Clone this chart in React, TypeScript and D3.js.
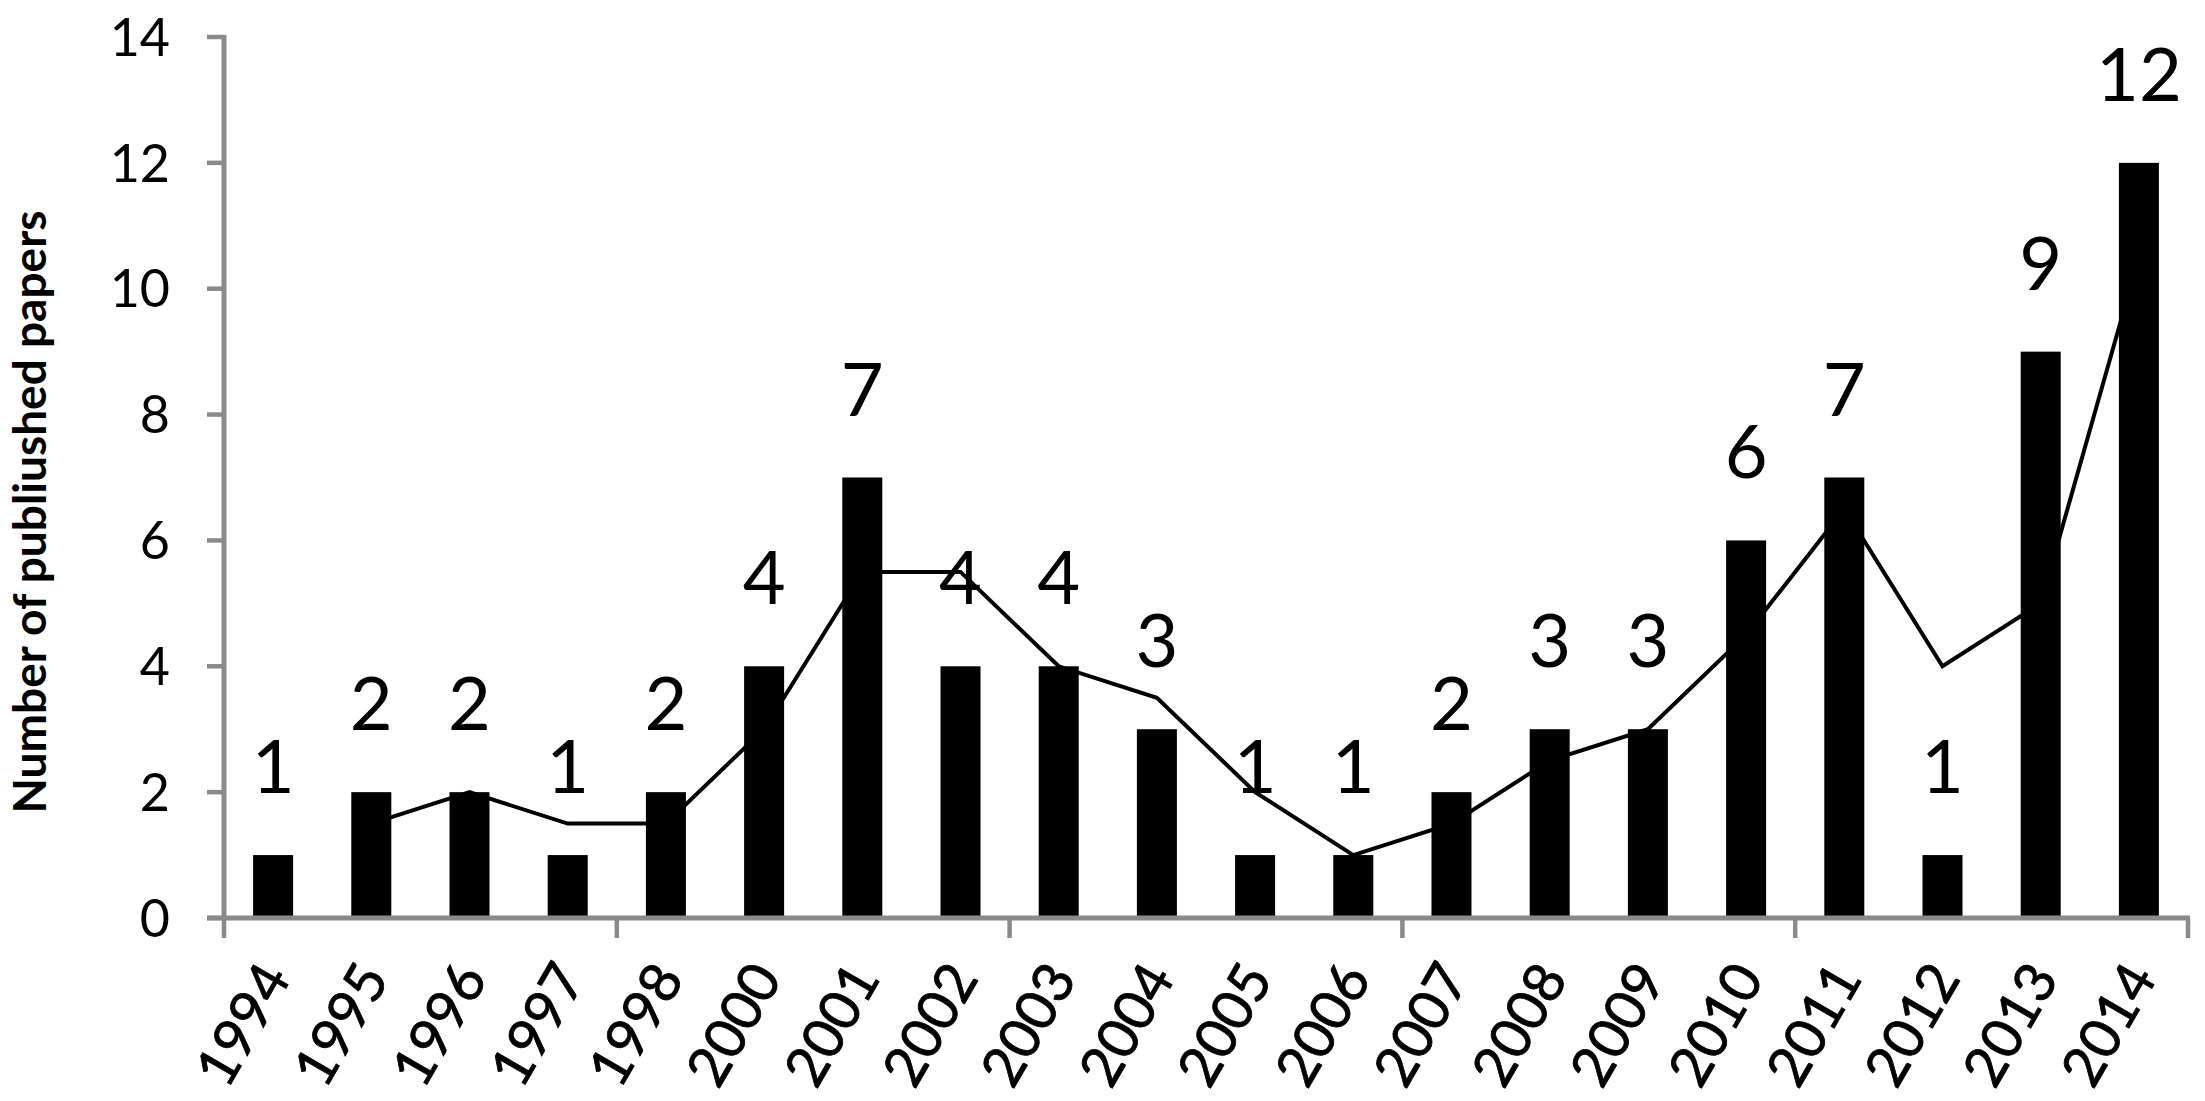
import React from "react";
import * as d3 from "d3";

const years = ["1994","1995","1996","1997","1998","2000","2001","2002","2003","2004","2005","2006","2007","2008","2009","2010","2011","2012","2013","2014"];
const papers = [1,2,2,1,2,4,7,4,4,3,1,1,2,3,3,6,7,1,9,12];
// two-period moving average trend line (starts at second category)
const trend: (number | null)[] = [null,1.5,2,1.5,1.5,3,5.5,5.5,4,3.5,2,1,1.5,2.5,3,4.5,6.5,4,5,10.5];
const yTicks = [0,2,4,6,8,10,12,14];
const yTitle = "Number of publiushed papers";

const W = 2205, H = 1101;
const left = 224, right = 2188, top = 37, bottom = 918;
const FONT = "Lato, 'Open Sans', sans-serif";
const AXIS = "#8a8a8a";

export default function App() {
  const x = d3.scaleBand<string>().domain(years).range([left, right]).paddingInner(0).paddingOuter(0);
  const y = d3.scaleLinear().domain([0, 14]).range([bottom, top]);
  const bw = 40;
  const cx = (d: string) => (x(d) as number) + x.bandwidth() / 2;
  const line = d3.line<[string, number | null]>()
    .defined(d => d[1] !== null)
    .x(d => cx(d[0]))
    .y(d => y(d[1] as number));
  const linePts: [string, number | null][] = years.map((yr, i) => [yr, trend[i]]);
  const majorTicks = d3.range(0, years.length + 1, 4).map(i => left + i * x.bandwidth());

  return (
    <svg width={W} height={H} style={{ position: "absolute", left: 0, top: 0, background: "#fff" }}>
      {/* bars */}
      {years.map((yr, i) => (
        <rect key={yr} x={cx(yr) - bw / 2} y={y(papers[i])} width={bw} height={bottom - y(papers[i])} fill="#000" />
      ))}
      {/* trend line */}
      <path d={line(linePts) || ""} fill="none" stroke="#000" strokeWidth={4} strokeLinejoin="miter" />
      {/* y axis */}
      <line x1={left} x2={left} y1={top - 2} y2={bottom + 2} stroke={AXIS} strokeWidth={5} />
      {yTicks.map(t => (
        <g key={t}>
          <line x1={left - 17} x2={left} y1={y(t)} y2={y(t)} stroke={AXIS} strokeWidth={4.5} />
          <text x={170} y={y(t)} dy="0.36em" textAnchor="end" fontFamily={FONT} fontSize={52} fill="#000">{t}</text>
        </g>
      ))}
      {/* x axis */}
      <line x1={left - 17} x2={right + 2} y1={bottom} y2={bottom} stroke={AXIS} strokeWidth={5} />
      {majorTicks.map((t, i) => (
        <line key={i} x1={t} x2={t} y1={bottom} y2={bottom + 20} stroke={AXIS} strokeWidth={4.5} />
      ))}
      {years.map(yr => (
        <text key={yr} transform={`translate(${cx(yr) + 19},${bottom + 60}) rotate(-60)`} textAnchor="end"
          fontFamily={FONT} fontSize={56} fill="#000" stroke="#000" strokeWidth={0.8}>{yr}</text>
      ))}
      {/* data labels */}
      {years.map((yr, i) => (
        <text key={"l" + yr} x={cx(yr)} y={y(papers[i]) - 62} textAnchor="middle" fontFamily={FONT} fontSize={74} fill="#000">{papers[i]}</text>
      ))}
      {/* y title */}
      <text transform={`translate(46,512) rotate(-90)`} textAnchor="middle" fontFamily={FONT} fontWeight="bold" fontSize={46} fill="#000">{yTitle}</text>
    </svg>
  );
}
